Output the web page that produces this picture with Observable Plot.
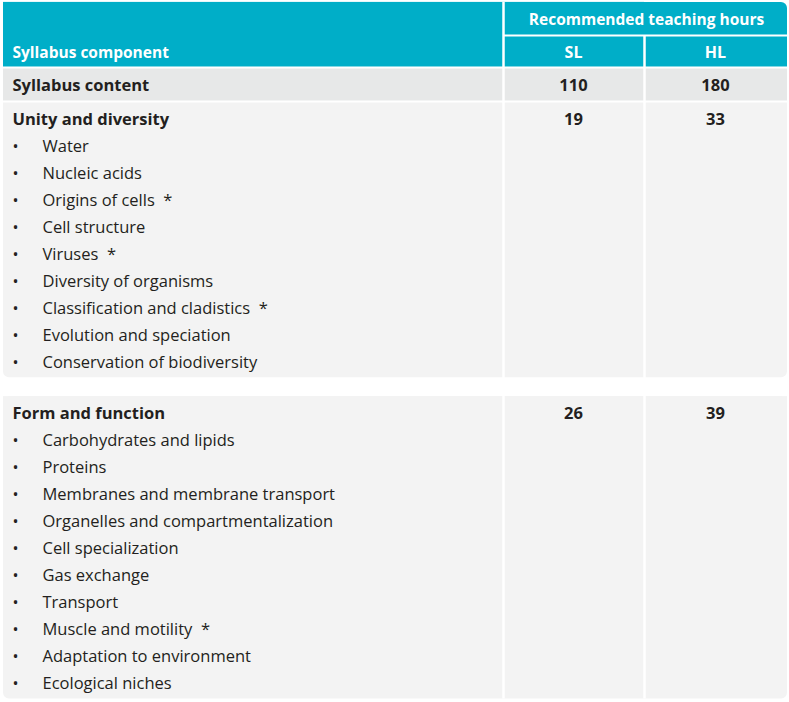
<!DOCTYPE html>
<html>
<head>
<meta charset="utf-8">
<script src="https://cdn.jsdelivr.net/npm/d3@7"></script>
<script src="https://cdn.jsdelivr.net/npm/@observablehq/plot@0.6"></script>
<style>
  html, body { margin: 0; padding: 0; background: #fff; }
  #chart svg { display: block; }
</style>
</head>
<body>
<div id="chart"></div>
<script>
// ---- data ----
const headerLabels = ["Syllabus component", "Recommended teaching hours", "SL", "HL"];
const components = ["Syllabus content", "Unity and diversity", "Form and function"];
const slHours = [110, 19, 26];
const hlHours = [180, 33, 39];
const unityTopics = ["Water", "Nucleic acids", "Origins of cells", "Cell structure", "Viruses",
  "Diversity of organisms", "Classification and cladistics", "Evolution and speciation",
  "Conservation of biodiversity"];
const formTopics = ["Carbohydrates and lipids", "Proteins", "Membranes and membrane transport",
  "Organelles and compartmentalization", "Cell specialization", "Gas exchange", "Transport",
  "Muscle and motility", "Adaptation to environment", "Ecological niches"];
const starredTopics = ["Origins of cells", "Viruses", "Classification and cladistics", "Muscle and motility"];

// ---- layout (row units; one topic line = 1 row) ----
const W = 789, H = 702;
const rowPx = 27, firstRowPx = 118;
const colEdge = [3, 503, 644, 787];          // table column boundaries
const slX = (colEdge[1] + colEdge[2]) / 2 - 0.5;
const hlX = (colEdge[2] + colEdge[3]) / 2 - 0.5;
const headTop = -4.3, headMid = -3.07, headBot = -1.89;
const contentTop = -1.89, contentBot = -0.63;
const blockGap = 0.9;

const blocks = [];
let r0 = 0;
[unityTopics, formTopics].forEach((topics, i) => {
  blocks.push({name: components[i + 1], sl: slHours[i + 1], hl: hlHours[i + 1], r: r0,
    top: r0 - 0.6, bottom: r0 + topics.length + 0.6, topics});
  r0 += topics.length + 1 + blockGap;
});
const blockRows = blocks.map(b => ({text: b.name, r: b.r}));
const topicRows = blocks.flatMap(b => b.topics.map((t, j) => ({
  text: t + (starredTopics.includes(t) ? "\u00a0\u00a0*" : ""), r: b.r + j + 1})));
const numberRows = [{r: (contentTop + contentBot) / 2, sl: slHours[0], hl: hlHours[0]}]
  .concat(blocks.map(b => ({r: b.r, sl: b.sl, hl: b.hl})));

const teal = "#00AEC8", rowGrey = "#E7E8E8", blockGrey = "#F3F3F3", ink = "#231F20";
const font = "Open Sans";
const tableBottom = blocks[blocks.length - 1].bottom;

const chart = Plot.plot({
  width: W, height: H,
  margin: 0,
  x: {type: "linear", domain: [0, W], range: [0, W], axis: null},
  y: {type: "linear", domain: [-firstRowPx / rowPx, (H - firstRowPx) / rowPx], range: [0, H], axis: null},
  style: {fontFamily: font, background: "#fff"},
  marks: [
    // header background (only the top-right corner rounded)
    Plot.rect([0], {x1: colEdge[0], x2: colEdge[3], y1: headTop, y2: headBot, fill: teal, rx: 6}),
    Plot.rect([0], {x1: colEdge[0], x2: colEdge[3], y1: headMid, y2: headBot, fill: teal}),
    Plot.rect([0], {x1: colEdge[0], x2: colEdge[2], y1: headTop, y2: headBot, fill: teal}),
    // syllabus content row
    Plot.rect([0], {x1: colEdge[0], x2: colEdge[3], y1: contentTop, y2: contentBot, fill: rowGrey}),
    // blocks (bottom corners rounded)
    Plot.rect(blocks, {x1: colEdge[0], x2: colEdge[3], y1: "top", y2: "bottom", fill: blockGrey, rx: 6}),
    Plot.rect(blocks, {x1: colEdge[0], x2: colEdge[3], y1: "top", y2: d => (d.top + d.bottom) / 2, fill: blockGrey}),
    // white dividers
    Plot.ruleX([colEdge[1]], {y1: headTop, y2: tableBottom, stroke: "#fff", strokeWidth: 2.5}),
    Plot.ruleX([colEdge[2]], {y1: headMid, y2: tableBottom, stroke: "#fff", strokeWidth: 2.5}),
    Plot.ruleY([headMid], {x1: colEdge[1], x2: colEdge[3], stroke: "#fff", strokeWidth: 2}),
    Plot.ruleY([headBot, contentBot], {x1: colEdge[0], x2: colEdge[3], stroke: "#fff", strokeWidth: 2}),
    // header text
    Plot.text([headerLabels[0]], {x: 12, y: (headMid + headBot) / 2, text: d => d, textAnchor: "start", dy: 1,
      fill: "#fff", fontWeight: "bold", fontSize: 15.5, fontFamily: font}),
    Plot.text([headerLabels[1]], {x: (colEdge[1] + colEdge[3]) / 2 + 1, y: (headTop + headMid) / 2, text: d => d, dy: 1,
      fill: "#fff", fontWeight: "bold", fontSize: 15.5, fontFamily: font}),
    Plot.text([{t: headerLabels[2], x: slX}, {t: headerLabels[3], x: hlX}], {x: "x", y: (headMid + headBot) / 2, dy: 1,
      text: "t", fill: "#fff", fontWeight: "bold", fontSize: 16, fontFamily: font}),
    // component names
    Plot.text([{text: components[0], r: (contentTop + contentBot) / 2}, ...blockRows], {x: 12, y: "r", text: "text",
      textAnchor: "start", dy: 1, fill: ink, fontWeight: "bold", fontSize: 16.5, fontFamily: font}),
    // hours
    Plot.text(numberRows, {x: slX, y: "r", text: "sl", dy: 1, fill: ink, fontWeight: "bold", fontSize: 16.5, fontFamily: font}),
    Plot.text(numberRows, {x: hlX, y: "r", text: "hl", dy: 1, fill: ink, fontWeight: "bold", fontSize: 16.5, fontFamily: font}),
    // topics
    Plot.text(topicRows, {x: 12, y: "r", text: () => "\u2022", textAnchor: "start", dy: 1, fill: ink, fontSize: 16, fontFamily: font}),
    Plot.text(topicRows, {x: 42, y: "r", text: "text", textAnchor: "start", dy: 1, fill: ink, fontSize: 16.5, fontFamily: font})
  ]
});
document.getElementById("chart").append(chart);
</script>
</body>
</html>
